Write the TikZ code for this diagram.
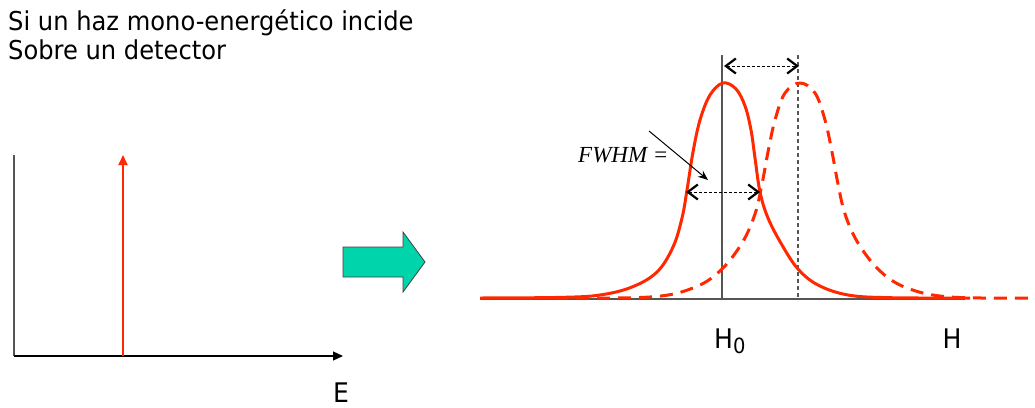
\documentclass[tikz,border=0pt]{standalone}
\usepackage{fontspec}
\setmainfont{DejaVu Sans}[FakeStretch=0.93]
\newfontfamily\serifit{Liberation Serif}
\usetikzlibrary{arrows.meta}
\definecolor{pkred}{RGB}{255,40,0}
\definecolor{tealgreen}{RGB}{0,212,170}
\definecolor{axisgray}{RGB}{85,85,85}
\tikzset{
  bigtext/.style={inner sep=0pt, font=\fontsize{26}{30}\selectfont},
  axislabel/.style={inner sep=0pt, font=\fontsize{27}{30}\selectfont},
  grayline/.style={axisgray, line width=1.3pt},
  peak/.style={pkred, line width=3pt, line join=round},
  measure/.style={black, line width=0.9pt, dash pattern=on 3pt off 2pt,
    {Straight Barb[length=10pt,width=15pt,line width=2.2pt]}-{Straight Barb[length=10pt,width=15pt,line width=2.2pt]}},
}
\begin{document}
\begin{tikzpicture}[x=1pt,y=-1pt]
\useasboundingbox (0,0) rectangle (1035,407);
% title
\node[bigtext, anchor=base west] (t1) at (8,30) {Si un haz mono-energético incide};
\node[bigtext, anchor=base west] (t2) at (8,59.5) {Sobre un detector};
% left axes
\coordinate (o) at (14,356);
\coordinate (ytop) at (14,155);
\coordinate (xend) at (343,356);
\draw[grayline] (ytop) -- (o);
\draw[black, line width=1.3pt, -{Triangle[length=10pt,width=9pt]}] (o) -- (xend);
\coordinate (s0) at (123,356);
\coordinate (s1) at (123,155);
\draw[pkred, line width=2pt, -{Triangle[length=10pt,width=9pt]}] (s0) -- (s1);
\node[axislabel, anchor=base] (E) at (341,402) {E};
% green block arrow
\draw[fill=tealgreen, draw=black!75, line width=0.8pt]
  (343,247) -- (403,247) -- (403,232) -- (425,262) -- (403,292) -- (403,277) -- (343,277) -- cycle;
% right plot
\coordinate (b0) at (480,299);
\coordinate (b1) at (965,299);
\draw[grayline] (b0) -- (b1);
\coordinate (v0t) at (722,55);
\coordinate (v0b) at (722,299);
\coordinate (v1t) at (798,55);
\coordinate (v1b) at (798,299);
\draw[grayline] (v0t) -- (v0b);
\draw[grayline, dash pattern=on 4pt off 3pt] (v1t) -- (v1b);
\draw[peak] plot[smooth, tension=0.6] coordinates {
  (480,298) (560,297.4) (600,295) (632,287) (657,272) (673,247) (682,218)
  (687,190) (693,152) (700,120) (710,95) (723,83) (736,89) (745,106)
  (751,130) (755,158) (760,192) (768,218) (782,245) (798,269) (818,285)
  (848,295) (890,297.7) (970,298)};
\draw[peak, dash pattern=on 13pt off 8pt] plot[smooth, tension=0.6] coordinates {
  (555,298) (650,297) (693,288) (720,271) (742,243) (755,214) (762,184)
  (768,152) (775,120) (785,93) (800,83) (815,93) (825,120) (832,152)
  (838,184) (845,214) (858,243) (880,271) (907,288) (950,297) (1035,298)};
% measurement arrows
\coordinate (a1) at (724,66);
\coordinate (a2) at (799,66);
\draw[measure] (a1) -- (a2);
\coordinate (f1) at (686,192);
\coordinate (f2) at (760,192);
\draw[measure] (f1) -- (f2);
\node[inner sep=0pt, anchor=west, font=\serifit\itshape\fontsize{23}{26}\selectfont] (fw) at (578,155) {FWHM =};
\coordinate (p0) at (649,131);
\coordinate (p1) at (708,180);
\draw[black, line width=1pt, -{Stealth[length=10pt,width=8pt]}] (p0) -- (p1);
% labels
\node[axislabel, anchor=base west] (h0) at (714,348) {H\raisebox{-5pt}{\fontsize{21}{21}\selectfont 0}};
\node[axislabel, anchor=base] (h) at (952,348) {H};
\end{tikzpicture}
\end{document}
